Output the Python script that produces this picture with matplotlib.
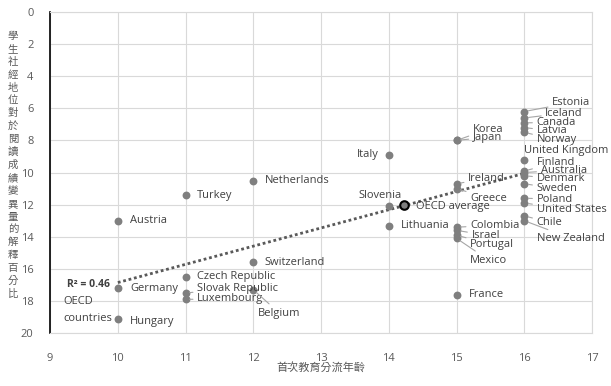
import matplotlib
matplotlib.use("Agg")
import matplotlib.pyplot as plt

# age at first selection vs. % of reading variance explained by ESCS
countries = ["Austria", "Turkey", "Netherlands", "Switzerland", "Czech Republic",
             "Slovak Republic", "Luxembourg", "Belgium", "Germany", "Hungary",
             "Italy", "Slovenia", "Lithuania", "Korea", "Japan", "Ireland", "Greece",
             "Colombia", "Israel", "Portugal", "Mexico", "France",
             "Estonia", "Iceland", "Canada", "Latvia", "Norway", "United Kingdom",
             "Finland", "Australia", "Denmark", "Sweden", "Poland", "United States",
             "Chile", "New Zealand"]
age = [10, 11, 12, 12, 11,
       11, 11, 12, 10, 10,
       14, 14, 14, 15, 15, 15, 15,
       15, 15, 15, 15, 15,
       16, 16, 16, 16, 16, 16,
       16, 16, 16, 16, 16, 16,
       16, 16]
pct = [13.0, 11.4, 10.5, 15.6, 16.5,
       17.5, 17.9, 17.3, 17.2, 19.1,
       8.9, 12.1, 13.3, 8.0, 8.0, 10.7, 11.0,
       13.4, 13.6, 13.9, 14.1, 17.6,
       6.2, 6.6, 6.9, 7.2, 7.5, 9.2,
       9.9, 10.0, 10.2, 10.7, 11.6, 11.9,
       12.7, 13.0]
oecd_avg = (14.22, 12.0)
trend_x = [10, 16]
trend_y = [16.85, 10.05]
xticks = list(range(9, 18))
yticks = list(range(0, 21, 2))

# label anchor (left edge, vertical centre) and whether a leader line is drawn
label_pos = {
    "Austria": (10.18, 13.0, False), "Turkey": (11.17, 11.4, False),
    "Netherlands": (12.17, 10.5, False), "Switzerland": (12.17, 15.6, False),
    "Czech Republic": (11.17, 16.5, False), "Slovak Republic": (11.17, 17.2, True),
    "Luxembourg": (11.17, 17.85, True), "Belgium": (12.07, 18.75, True),
    "Germany": (10.18, 17.25, False), "Hungary": (10.18, 19.25, False),
    "Lithuania": (14.18, 13.3, False),
    "Korea": (15.24, 7.3, True), "Japan": (15.24, 7.8, True),
    "Ireland": (15.17, 10.35, True), "Greece": (15.2, 11.6, True),
    "Colombia": (15.2, 13.3, True), "Israel": (15.22, 13.9, True),
    "Portugal": (15.2, 14.5, True), "Mexico": (15.2, 15.45, True),
    "France": (15.18, 17.6, False),
    "Estonia": (16.41, 5.65, True), "Iceland": (16.31, 6.3, True),
    "Canada": (16.18, 6.9, True), "Latvia": (16.18, 7.4, True),
    "Norway": (16.18, 7.95, True), "United Kingdom": (16.0, 8.65, False),
    "Finland": (16.18, 9.4, True), "Australia": (16.24, 9.85, True),
    "Denmark": (16.18, 10.4, True), "Sweden": (16.18, 11.0, True),
    "Poland": (16.18, 11.65, True), "United States": (16.18, 12.3, True),
    "Chile": (16.18, 13.1, True), "New Zealand": (16.19, 14.1, True),
}

plt.rcParams['font.family'] = ['Open Sans', 'DejaVu Sans']
txt_col = '#404040'
dot_col = '#7f7f7f'

fig = plt.figure(figsize=(6.11, 3.86), dpi=100)
ax = fig.add_axes([0.082, 0.137, 0.887, 0.832])

ax.set_xlim(9, 17)
ax.set_ylim(20, 0)
ax.set_xticks(xticks)
ax.set_yticks(yticks)
ax.grid(True, color='#d9d9d9', lw=0.8)
ax.set_axisbelow(True)
for s in ['top', 'right', 'bottom']:
    ax.spines[s].set_color('#d9d9d9')
ax.spines['left'].set_color('black')
ax.spines['left'].set_linewidth(1.2)
ax.tick_params(length=0, labelsize=8, colors='#595959')
ax.tick_params(axis='x', pad=14)
ax.tick_params(axis='y', pad=12)

ax.plot(trend_x, trend_y, ls=(0, (1, 1)), color='#595959', lw=2, zorder=2)
ax.scatter(age, pct, s=32, color=dot_col, zorder=3, lw=0)
ax.scatter([oecd_avg[0]], [oecd_avg[1]], s=38, color=dot_col, edgecolor='black',
           lw=1.5, zorder=4)

for c, x, y in zip(countries, age, pct):
    if c in ("Italy", "Slovenia"):
        continue
    lx, ly, leader = label_pos[c]
    if leader:
        ax.annotate(c, xy=(x, y), xytext=(lx, ly), fontsize=8, color=txt_col,
                    ha='left', va='center',
                    arrowprops=dict(arrowstyle='-', color='#a6a6a6', lw=0.8,
                                    shrinkA=1, shrinkB=3))
    else:
        ax.text(lx, ly, c, fontsize=8, color=txt_col, ha='left', va='center')

ax.text(13.85, 8.9, "Italy", fontsize=8, color=txt_col, ha='right', va='center')
ax.text(13.87, 11.45, "Slovenia", fontsize=8, color=txt_col, ha='center', va='center')
ax.text(14.4, 12.1, "OECD average", fontsize=8, color=txt_col, ha='left', va='center')
ax.text(9.56, 17.0, "R² = 0.46", fontsize=7.5, color=txt_col, ha='center',
        va='center', fontweight='bold')
ax.text(9.19, 18.05, "OECD", fontsize=8, color=txt_col, ha='left', va='center')
ax.text(9.19, 19.1, "countries", fontsize=8, color=txt_col, ha='left', va='center')

cjk = ['Noto Sans CJK TC', 'DejaVu Sans']
ylab = "學生社經地位對於閱讀成績變異量的解釋百分比"
top_px, step_px = 36, 12.9
for i, ch in enumerate(ylab):
    fig.text(13 / 611, 1 - (top_px + i * step_px) / 386, ch, family=cjk,
             fontsize=7.5, color='#595959', ha='center', va='center')
fig.text(321 / 611, 1 - 368 / 386, "首次教育分流年齡", family=cjk, fontsize=8,
         color='#595959', ha='center', va='center')

fig.savefig("out.png", dpi=100)
